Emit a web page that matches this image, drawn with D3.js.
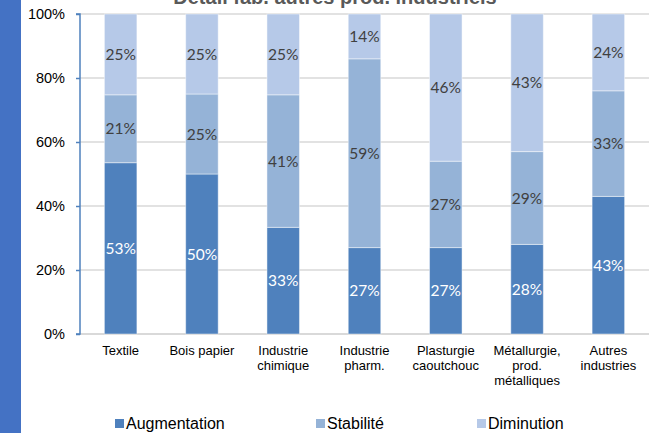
<!DOCTYPE html>
<html>
<head>
<meta charset="utf-8">
<script src="https://cdn.jsdelivr.net/npm/d3@7"></script>
<style>
  html, body { margin: 0; padding: 0; background: #fff; }
  svg { display: block; }
</style>
</head>
<body>
<svg id="chart" width="649" height="433"></svg>
<script>
// Sector breakdown: share of answers per outcome
const categories = ["Textile", "Bois papier", "Industrie\nchimique", "Industrie\npharm.",
  "Plasturgie\ncaoutchouc", "Métallurgie,\nprod.\nmétalliques", "Autres\nindustries"];
const seriesNames = ["Augmentation", "Stabilité", "Diminution"];
const augmentation = [53, 50, 33, 27, 27, 28, 43];
const stabilite    = [21, 25, 41, 59, 27, 29, 33];
const diminution   = [25, 25, 25, 14, 46, 43, 24];
const yTicks = [0, 20, 40, 60, 80, 100];
const title = "Détail fab. autres prod. industriels";

const colors = ["#4f81bd", "#95b3d7", "#b6c9e8"];
const labelColors = ["#ffffff", "#404040", "#404040"];

const svg = d3.select("#chart");
const W = 649, H = 433;
const m = { left: 80, right: 0, top: 14, bottom: 99 };

// left accent strip
svg.append("rect").attr("x", 0).attr("y", 0).attr("width", 21).attr("height", H)
  .attr("fill", "#4472c4");

// title (partly above the visible area)
svg.append("text").attr("x", 335).attr("y", 4)
  .attr("text-anchor", "middle")
  .attr("font-family", "Liberation Sans, Arial, sans-serif")
  .attr("font-weight", "bold").attr("font-size", 20)
  .attr("fill", "#595959").text(title);

const rows = categories.map((c, i) => ({
  cat: c,
  Augmentation: augmentation[i],
  "Stabilité": stabilite[i],
  Diminution: diminution[i]
}));

const x = d3.scaleBand().domain(categories)
  .range([m.left, W - m.right]).paddingInner(0.6).paddingOuter(0.3);
const y = d3.scaleLinear().domain([0, 1]).range([H - m.bottom, m.top]);

// gridlines
svg.append("g").selectAll("line").data(yTicks).join("line")
  .attr("x1", m.left).attr("x2", W)
  .attr("y1", d => y(d / 100)).attr("y2", d => y(d / 100))
  .attr("stroke", "#d9d9d9").attr("stroke-width", d => d === 0 ? 2 : 1.5);

const stacked = d3.stack().keys(seriesNames).offset(d3.stackOffsetExpand)(rows);

const groups = svg.append("g").selectAll("g").data(stacked).join("g")
  .attr("fill", (d, i) => colors[i]);

groups.selectAll("rect").data(d => d).join("rect")
  .attr("x", d => x(d.data.cat))
  .attr("width", x.bandwidth())
  .attr("y", d => y(d[1]))
  .attr("height", d => y(d[0]) - y(d[1]))
  .attr("stroke", "#ffffff").attr("stroke-opacity", 0.45).attr("stroke-width", 1);

// value labels
stacked.forEach((s, si) => {
  svg.append("g").selectAll("text").data(s).join("text")
    .attr("x", d => x(d.data.cat) + x.bandwidth() / 2)
    .attr("y", d => (y(d[0]) + y(d[1])) / 2)
    .attr("dy", "0.36em")
    .attr("text-anchor", "middle")
    .attr("font-family", "Lato, sans-serif")
    .attr("font-size", 15.5)
    .attr("fill", labelColors[si])
    .text(d => d.data[s.key] + "%");
});

// y axis
const yAxis = svg.append("g").attr("transform", `translate(${m.left},0)`)
  .call(d3.axisLeft(y).tickValues(yTicks.map(t => t / 100))
    .tickFormat(d => Math.round(d * 100) + "%").tickSize(4).tickPadding(11));
yAxis.select(".domain").attr("stroke", "#4f81bd").attr("stroke-width", 1.5)
  .attr("d", `M-4,${y(1)}H0V${y(0)}H-4`);
yAxis.selectAll(".tick line").attr("stroke", "#4f81bd").attr("stroke-width", 1.5);
yAxis.selectAll(".tick text")
  .attr("font-family", "Liberation Sans, Arial, sans-serif")
  .attr("font-size", 14.5).attr("fill", "#000");

// category labels
const xl = svg.append("g").selectAll("text").data(categories).join("text")
  .attr("x", d => x(d) + x.bandwidth() / 2)
  .attr("y", 355)
  .attr("text-anchor", "middle")
  .attr("font-family", "Liberation Sans, Arial, sans-serif")
  .attr("font-size", 13).attr("fill", "#000");
xl.each(function(d) {
  const t = d3.select(this);
  d.split("\n").forEach((line, i) => {
    t.append("tspan").attr("x", x(d) + x.bandwidth() / 2)
      .attr("dy", i === 0 ? 0 : 15).text(line);
  });
});

// legend
const legendX = [115, 316, 477];
const lg = svg.append("g").selectAll("g").data(seriesNames).join("g")
  .attr("transform", (d, i) => `translate(${legendX[i]},0)`);
lg.append("rect").attr("x", 0).attr("y", 419).attr("width", 9).attr("height", 9)
  .attr("fill", (d, i) => colors[i]);
lg.append("text").attr("x", 11).attr("y", 429)
  .attr("font-family", "Liberation Sans, Arial, sans-serif")
  .attr("font-size", 16).attr("fill", "#000")
  .text(d => d);
</script>
</body>
</html>
